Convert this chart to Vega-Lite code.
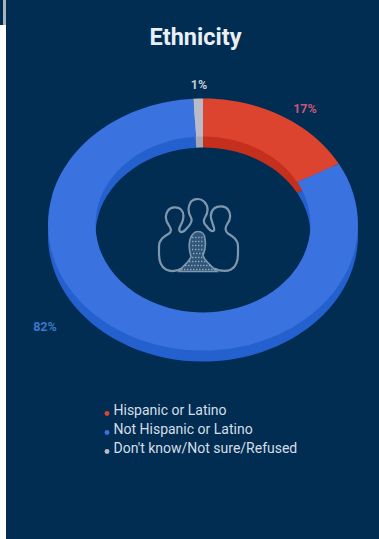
{
  "$schema": "https://vega.github.io/schema/vega-lite/v6.json",
  "width": 379,
  "height": 539,
  "autosize": {"type": "fit", "contains": "padding"},
  "padding": 0,
  "background": "#ffffff",
  "config": {"view": {"stroke": null}},
  "data": {"values": [
    {"category": "Hispanic or Latino", "value": 17, "rank": 1},
    {"category": "Not Hispanic or Latino", "value": 82, "rank": 2},
    {"category": "Don't know/Not sure/Refused", "value": 1, "rank": 3}
  ]},
  "layer": [
    {
      "data": {"values": [{"panel": "page"}]},
      "mark": {"type": "rect", "fill": "#012D53"},
      "encoding": {
        "x": {"datum": 6, "scale": {"domain": [0, 379]}, "axis": null},
        "x2": {"datum": 379},
        "y": {"datum": 0, "scale": {"domain": [0, 539], "reverse": true}, "axis": null},
        "y2": {"datum": 539}
      }
    },
    {
      "data": {"values": [{"panel": "edge"}]},
      "mark": {"type": "rect", "fill": "#012D53"},
      "encoding": {
        "x": {"datum": 0, "scale": {"domain": [0, 379]}, "axis": null},
        "x2": {"datum": 3},
        "y": {"datum": 0, "scale": {"domain": [0, 539], "reverse": true}, "axis": null},
        "y2": {"datum": 25}
      }
    },
    {
      "data": {"values": [{"panel": "edge"}]},
      "mark": {"type": "rect", "fill": "#A9B4BE"},
      "encoding": {
        "x": {"datum": 3, "scale": {"domain": [0, 379]}, "axis": null},
        "x2": {"datum": 6},
        "y": {"datum": 0, "scale": {"domain": [0, 539], "reverse": true}, "axis": null},
        "y2": {"datum": 25}
      }
    },
    {
      "transform": [
        {"stack": "value", "groupby": [], "sort": [{"field": "rank", "order": "ascending"}], "as": ["v0", "v1"]},
        {"calculate": "2 * PI * datum.v0 / 100", "as": "a0"},
        {"calculate": "2 * PI * datum.v1 / 100", "as": "a1"},
        {"calculate": "round(155 * sin(datum.a0) * 100) / 100 + ' ' + round(-126 * cos(datum.a0) * 100) / 100", "as": "outerStart"},
        {"calculate": "round(155 * sin(datum.a1) * 100) / 100 + ' ' + round(-126 * cos(datum.a1) * 100) / 100", "as": "outerEnd"},
        {"calculate": "round(107.5 * sin(datum.a0) * 100) / 100 + ' ' + round(-88 * cos(datum.a0) * 100) / 100", "as": "innerStart"},
        {"calculate": "round(107.5 * sin(datum.a1) * 100) / 100 + ' ' + round(-88 * cos(datum.a1) * 100) / 100", "as": "innerEnd"},
        {"calculate": "(datum.value > 50 ? '1' : '0')", "as": "large"},
        {"calculate": "'M ' + datum.outerStart + ' A 155 126 0 ' + datum.large + ' 1 ' + datum.outerEnd + ' L ' + datum.innerEnd + ' A 107.5 88 0 ' + datum.large + ' 0 ' + datum.innerStart + ' Z'", "as": "wedge"},
        {"calculate": "datum.value + '%'", "as": "label"},
        {"calculate": "392 + 19 * datum.rank", "as": "legendRow"},
        {"calculate": "394.5 + 19 * datum.rank", "as": "legendDot"}
      ],
      "layer": [
        {
          "mark": {"type": "point", "filled": true, "size": 4, "opacity": 1},
          "encoding": {
            "x": {"datum": 203, "scale": {"domain": [0, 379]}, "axis": null},
            "y": {"datum": 235.5, "scale": {"domain": [0, 539], "reverse": true}, "axis": null},
            "shape": {"field": "wedge", "type": "nominal", "scale": null, "legend": null},
            "fill": {
              "field": "category", "type": "nominal", "legend": null,
              "scale": {
                "domain": ["Hispanic or Latino", "Not Hispanic or Latino", "Don't know/Not sure/Refused"],
                "range": ["#C5301E", "#2560CF", "#A6A8B6"]
              }
            }
          }
        },
        {
          "mark": {"type": "point", "filled": true, "size": 4, "opacity": 1},
          "encoding": {
            "x": {"datum": 203, "scale": {"domain": [0, 379]}, "axis": null},
            "y": {"datum": 224.5, "scale": {"domain": [0, 539], "reverse": true}, "axis": null},
            "shape": {"field": "wedge", "type": "nominal", "scale": null, "legend": null},
            "color": {
              "field": "category", "type": "nominal", "legend": null,
              "scale": {
                "domain": ["Hispanic or Latino", "Not Hispanic or Latino", "Don't know/Not sure/Refused"],
                "range": ["#DD4430", "#3A72DF", "#B9BBC8"]
              }
            }
          }
        },
        {
          "mark": {"type": "circle", "size": 24, "opacity": 1},
          "encoding": {
            "x": {"datum": 107, "scale": {"domain": [0, 379]}, "axis": null},
            "y": {"field": "legendDot", "type": "quantitative", "scale": {"domain": [0, 539], "reverse": true}, "axis": null},
            "color": {
              "field": "category", "type": "nominal", "legend": null,
              "scale": {
                "domain": ["Hispanic or Latino", "Not Hispanic or Latino", "Don't know/Not sure/Refused"],
                "range": ["#DD4430", "#3A72DF", "#B9BBC8"]
              }
            }
          }
        },
        {
          "mark": {"type": "text", "font": "Roboto", "fontSize": 14, "fill": "#D5DEE6", "align": "left", "baseline": "middle"},
          "encoding": {
            "x": {"datum": 113.5, "scale": {"domain": [0, 379]}, "axis": null},
            "y": {"field": "legendRow", "type": "quantitative", "scale": {"domain": [0, 539], "reverse": true}, "axis": null},
            "text": {"field": "category"}
          }
        },
        {
          "transform": [{"filter": "datum.rank === 1"}],
          "mark": {"type": "text", "font": "Roboto", "fontWeight": "bold", "fontSize": 12.5, "fill": "#C9557A", "align": "center", "baseline": "middle"},
          "encoding": {
            "x": {"datum": 305, "scale": {"domain": [0, 379]}, "axis": null},
            "y": {"datum": 109, "scale": {"domain": [0, 539], "reverse": true}, "axis": null},
            "text": {"field": "label"}
          }
        },
        {
          "transform": [{"filter": "datum.rank === 2"}],
          "mark": {"type": "text", "font": "Roboto", "fontWeight": "bold", "fontSize": 12.5, "fill": "#3E78C8", "align": "center", "baseline": "middle"},
          "encoding": {
            "x": {"datum": 45, "scale": {"domain": [0, 379]}, "axis": null},
            "y": {"datum": 327, "scale": {"domain": [0, 539], "reverse": true}, "axis": null},
            "text": {"field": "label"}
          }
        },
        {
          "transform": [{"filter": "datum.rank === 3"}],
          "mark": {"type": "text", "font": "Roboto", "fontWeight": "bold", "fontSize": 12.5, "fill": "#C3CDD6", "align": "center", "baseline": "middle"},
          "encoding": {
            "x": {"datum": 199, "scale": {"domain": [0, 379]}, "axis": null},
            "y": {"datum": 85, "scale": {"domain": [0, 539], "reverse": true}, "axis": null},
            "text": {"field": "label"}
          }
        }
      ]
    },
    {
      "data": {"values": [{"heading": "Ethnicity"}]},
      "mark": {"type": "text", "font": "Roboto", "fontWeight": "bold", "fontSize": 23.5, "fill": "#E8F0F5", "align": "center", "baseline": "alphabetic"},
      "encoding": {
        "x": {"datum": 195.5, "scale": {"domain": [0, 379]}, "axis": null},
        "y": {"datum": 45, "scale": {"domain": [0, 539], "reverse": true}, "axis": null},
        "text": {"field": "heading"}
      }
    },
    {
      "data": {"values": [{"figure": "back"}]},
      "mark": {
        "type": "point", "size": 4, "filled": false, "opacity": 1, "stroke": "#7F97AD", "strokeWidth": 2.2,
        "shape": "M -16 30 C -22 33 -28 33 -32 31 C -38 28 -39 22 -39 15 L -39 8 C -39 1 -34 -2 -29 -5 C -26 -7 -27 -10 -29 -13 C -33 -18 -33 -24 -30 -28 C -27 -32 -20 -32 -17 -29 C -14 -26 -14 -20 -16 -16 C -18 -12 -20 -9 -18 -7 C -15 -5 -12 -9 -8 -14 C -6 -17 -6 -19 -7 -21 C -10 -26 -10 -31 -8 -35 C -6 -40 2 -41 6 -37 C 11 -32 10 -26 7 -21 C 5 -18 6 -15 8 -13 C 11 -9 14 -6 16 -8 C 17 -10 15 -13 14 -17 C 12 -22 13 -27 16 -30 C 20 -33 27 -33 30 -29 C 33 -25 33 -19 29 -14 C 27 -11 27 -7 30 -5 C 35 -2 40 1 40 8 L 40 15 C 40 22 39 28 33 31 C 29 33 23 33 16 30"
      },
      "encoding": {
        "x": {"datum": 198, "scale": {"domain": [0, 379]}, "axis": null},
        "y": {"datum": 238.5, "scale": {"domain": [0, 539], "reverse": true}, "axis": null}
      }
    },
    {
      "data": {"values": [{"figure": "front"}]},
      "mark": {
        "type": "point", "size": 4, "filled": true, "opacity": 1, "fill": "#2F5679", "stroke": "#7F97AD", "strokeWidth": 1.6,
        "shape": "M -19 33 C -14 26 -9 24 -7 18 C -9 12 -9 5 -8 1 C -6 -5 -3 -7 0 -7 C 4 -7 7 -4 7 1 C 8 6 7 12 5 17 C 7 23 13 27 19 33 Z"
      },
      "encoding": {
        "x": {"datum": 198, "scale": {"domain": [0, 379]}, "axis": null},
        "y": {"datum": 238.5, "scale": {"domain": [0, 539], "reverse": true}, "axis": null}
      }
    },
    {
      "data": {"values": [{"figure": "mesh"}]},
      "mark": {
        "type": "point", "size": 4, "filled": false, "opacity": 1, "stroke": "#8AA2B6", "strokeWidth": 1.3, "strokeDash": [1.5, 1.5],
        "shape": "M -6 -1 L 6 -1 M -6 3 L 6 3 M -6 7 L 6 7 M -6 11 L 6 11 M -5 15 L 5 15 M -6 19 L 6 19 M -9 23 L 9 23 M -13 27 L 13 27 M -17 31 L 17 31"
      },
      "encoding": {
        "x": {"datum": 198, "scale": {"domain": [0, 379]}, "axis": null},
        "y": {"datum": 238.5, "scale": {"domain": [0, 539], "reverse": true}, "axis": null}
      }
    }
  ]
}
